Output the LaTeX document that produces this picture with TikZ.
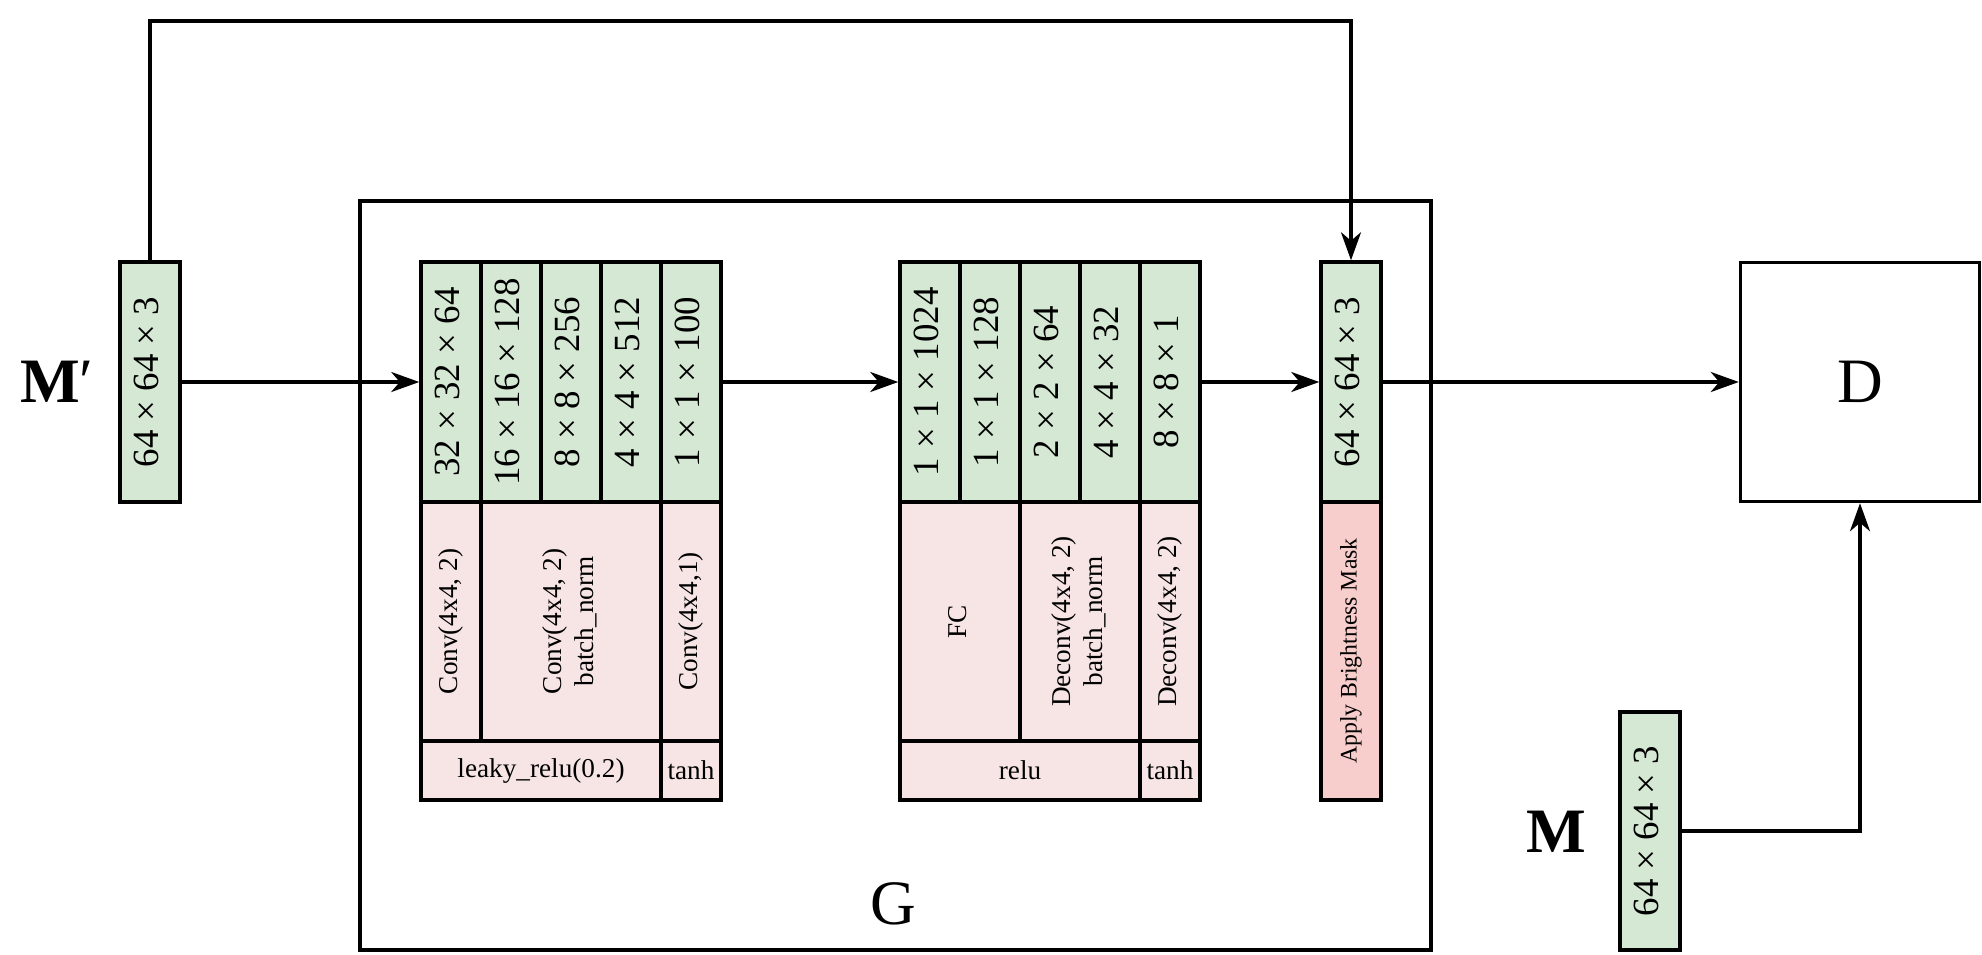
\documentclass[tikz,border=0pt]{standalone}
\usepackage{fontspec}
\usepackage{graphicx}
\setmainfont{Liberation Serif}
\usetikzlibrary{arrows.meta}

\definecolor{dimgreen}{HTML}{D5E8D4}
\definecolor{oppink}{HTML}{F7E5E5}
\definecolor{maskred}{HTML}{F8CECC}
\newcommand{\vt}[1]{\rotatebox{90}{\begin{tabular}{@{}c@{}}#1\end{tabular}}}

\tikzset{
  dimbox/.style={draw,fill=dimgreen,inner sep=0pt,minimum width=1.2cm,minimum height=4.8cm,font=\fontsize{21}{25}\selectfont},
  opbox/.style={draw,fill=oppink,inner sep=0pt,minimum height=4.78cm,font=\fontsize{15.5}{18}\selectfont},
  actbox/.style={draw,fill=oppink,inner sep=0pt,minimum height=1.18cm,font=\fontsize{15.5}{18}\selectfont},
  biglabel/.style={font=\fontsize{36}{40}\selectfont},
}

\begin{document}
\begin{tikzpicture}[x=0.02cm,y=-0.02cm,line width=2pt,>={Stealth[length=5.6mm,width=4mm,inset=1.7mm]}]
  \useasboundingbox (0,0) rectangle (1982,954);
  % generator
  \node[draw,minimum width=21.42cm,minimum height=14.98cm] (gbox) at (895.5,575.5) {};
  \node[biglabel] (lg) at (893,904) {G};
  % input M'
  \node[dimbox] (mp) at (150,382) {\vt{64 × 64 × 3}};
  \node[biglabel] (lmp) at (57,382) {\textbf{M}′};
  % encoder
  \node[dimbox] (e1) at (451,382) {\vt{32 × 32 × 64}};
  \node[dimbox] (e2) at (511,382) {\vt{16 × 16 × 128}};
  \node[dimbox] (e3) at (571,382) {\vt{8 × 8 × 256}};
  \node[dimbox] (e4) at (631,382) {\vt{4 × 4 × 512}};
  \node[dimbox] (e5) at (691,382) {\vt{1 × 1 × 100}};
  \node[opbox,minimum width=1.2cm] (eo1) at (451,621.5) {\vt{Conv(4x4, 2)}};
  \node[opbox,minimum width=3.6cm] (eo2) at (571,621.5) {\vt{Conv(4x4, 2)\\batch\_norm}};
  \node[opbox,minimum width=1.2cm] (eo3) at (691,621.5) {\vt{Conv(4x4,1)}};
  \node[actbox,minimum width=4.8cm] (ea1) at (541,770.5) {leaky\_relu(0.2)};
  \node[actbox,minimum width=1.2cm] (ea2) at (691,770.5) {tanh};
  % decoder
  \node[dimbox] (d1) at (930,382) {\vt{1 × 1 × 1024}};
  \node[dimbox] (d2) at (990,382) {\vt{1 × 1 × 128}};
  \node[dimbox] (d3) at (1050,382) {\vt{2 × 2 × 64}};
  \node[dimbox] (d4) at (1110,382) {\vt{4 × 4 × 32}};
  \node[dimbox] (d5) at (1170,382) {\vt{8 × 8 × 1}};
  \node[opbox,minimum width=2.4cm] (do1) at (960,621.5) {\vt{FC}};
  \node[opbox,minimum width=2.4cm] (do2) at (1080,621.5) {\vt{Deconv(4x4, 2)\\batch\_norm}};
  \node[opbox,minimum width=1.2cm] (do3) at (1170,621.5) {\vt{Deconv(4x4, 2)}};
  \node[actbox,minimum width=4.8cm] (da1) at (1020,770.5) {relu};
  \node[actbox,minimum width=1.2cm] (da2) at (1170,770.5) {tanh};
  % brightness mask
  \node[dimbox] (bm) at (1351,382) {\vt{64 × 64 × 3}};
  \node[opbox,fill=maskred,minimum width=1.2cm,minimum height=5.96cm,font=\fontsize{13.5}{16}\selectfont] (bmop) at (1351,651) {\vt{Apply Brightness Mask}};
  % discriminator and real M
  \node[draw,biglabel,minimum width=4.78cm,minimum height=4.78cm] (D) at (1860,382) {D};
  \node[dimbox,minimum height=4.76cm] (m) at (1650,831) {\vt{64 × 64 × 3}};
  \node[biglabel] (lm) at (1556,832) {\textbf{M}};
  % connectors
  \coordinate (fb) at (150,21);
  \draw[->] (mp.east) -- (e1.west);
  \draw[->] (e5.east) -- (d1.west);
  \draw[->] (d5.east) -- (bm.west);
  \draw[->] (mp.north) -- (fb) -| (bm.north);
  \draw[->] (bm.east) -- (D.west);
  \draw[->] (m.east) -| (D.south);
\end{tikzpicture}
\end{document}
